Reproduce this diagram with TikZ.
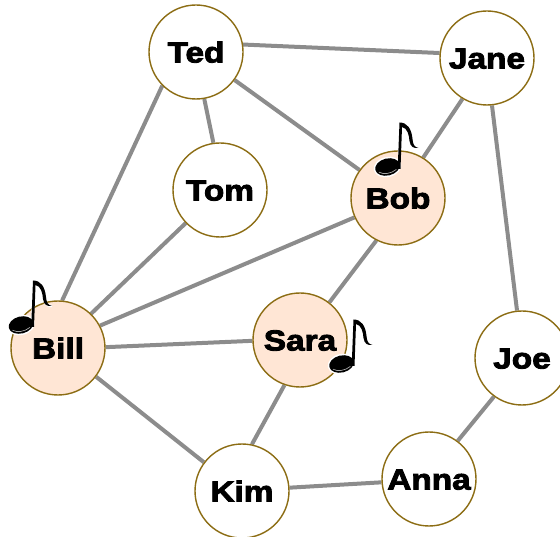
\documentclass[tikz,border=0pt]{standalone}
\usepackage{fontspec}
\setmainfont{DejaVu Sans}
\newfontfamily\heavyface[FakeBold=3,FakeStretch=1.15]{Liberation Sans Bold}
\usetikzlibrary{backgrounds}
\definecolor{rimcol}{HTML}{8C6D14}
\definecolor{peach}{HTML}{FFE6D5}
\definecolor{linkcol}{HTML}{8C8C8C}
\tikzset{
  x=1pt,y=-1pt,
  person/.style={circle,draw=rimcol,line width=1.4pt,fill=white,minimum size=94pt,inner sep=0pt,font=\fontsize{29}{30}\selectfont\heavyface,text=black,text height=21pt,text depth=0pt},
  singer/.style={person,fill=peach},
  link/.style={draw=linkcol,line width=4pt},
  musicnote/.pic={
    % halo
    \fill[white,rotate=14] (0,0) ellipse (14 and 10);
    \draw[white,line width=2.5pt,line join=round] (11,2) -- (13,-44) .. controls (21,-42) and (22,-32) .. (24,-24) .. controls (25,-20) and (27,-19) .. (31,-19);
    % stem and flag
    \fill[black] (10.2,2) -- (12,-44.5) .. controls (20,-44.5) and (24,-38) .. (25,-28) .. controls (25.5,-22) and (27,-20) .. (31,-19)
       .. controls (26,-18.5) and (23,-20) .. (22,-26) .. controls (21.5,-32) and (20,-39) .. (14.5,-40) -- (13,2) -- cycle;
    % head
    \fill[black,rotate=14] (0,0) ellipse (12.5 and 8.5);
    \draw[gray!70,line width=0.7pt,rotate=14] (-9.5,3) .. controls (-6,6.5) and (2,7.5) .. (8,4.5);
  }
}
\begin{document}
\begin{tikzpicture}
\path[use as bounding box] (0,0) rectangle (560,537);
\node[person] (ted) at (196,52) {Ted};
\node[person] (jane) at (487,58) {Jane};
\node[person] (tom) at (220,190) {Tom};
\node[singer] (bob) at (398,198) {Bob};
\node[singer] (bill) at (58,348) {Bill};
\node[singer] (sara) at (300,340) {Sara};
\node[person] (joe) at (522,358) {Joe};
\node[person] (kim) at (242,491) {Kim};
\node[person] (anna) at (429,479) {Anna};
\begin{scope}[on background layer]
\draw[link] (ted.9) -- (jane.174);
\draw[link] (ted.-36) -- (bob.144);
\draw[link] (ted.-80) -- (tom.98);
\draw[link] (ted.225) -- (bill.85);
\draw[link] (tom.224) -- (bill.46);
\draw[link] (bob.204) -- (bill.28);
\draw[link] (bob.243) -- (sara.52);
\draw[link] (bob.58) -- (jane.239);
\draw[link] (bill.1) -- (sara.181);
\draw[link] (bill.-37) -- (kim.143);
\draw[link] (sara.251) -- (kim.78);
\draw[link] (kim.4) -- (anna.184);
\draw[link] (anna.53) -- (joe.234);
\draw[link] (jane.-84) -- (joe.96);
\end{scope}
\pic at (387.5,167) {musicnote};
\pic at (21,325) {musicnote};
\pic at (341.5,364) {musicnote};
\end{tikzpicture}
\end{document}
